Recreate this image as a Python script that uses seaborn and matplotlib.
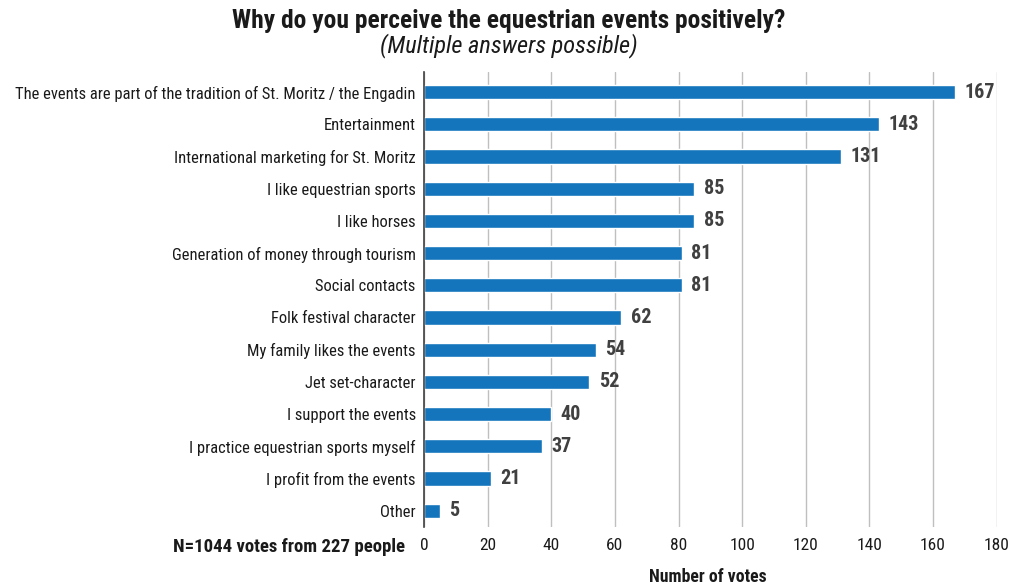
import matplotlib
matplotlib.use("Agg")
import matplotlib.pyplot as plt
import seaborn as sns
import pandas as pd
from matplotlib import font_manager

categories = [
    "The events are part of the tradition of St. Moritz / the Engadin",
    "Entertainment",
    "International marketing for St. Moritz",
    "I like equestrian sports",
    "I like horses",
    "Generation of money through tourism",
    "Social contacts",
    "Folk festival character",
    "My family likes the events",
    "Jet set-character",
    "I support the events",
    "I practice equestrian sports myself",
    "I profit from the events",
    "Other",
]
votes = [167, 143, 131, 85, 85, 81, 81, 62, 54, 52, 40, 37, 21, 5]
x_ticks = [0, 20, 40, 60, 80, 100, 120, 140, 160, 180]

sns.set_theme(style="white")
names = {f.name for f in font_manager.fontManager.ttflist}
fam = "Liberation Sans"
for cand in ["Liberation Sans Narrow", "Arial Narrow", "Roboto Condensed", "PT Sans Narrow",
             "Archivo Narrow"]:
    if cand in names:
        fam = cand
        break
plt.rcParams["font.family"] = [fam, "DejaVu Sans"]

df = pd.DataFrame({"cat": categories, "votes": votes})

fig = plt.figure(figsize=(10.17, 5.86), dpi=100)
ax = fig.add_axes([0.417, 0.101, 0.563, 0.776])
sns.barplot(data=df, x="votes", y="cat", color="#1475bd", saturation=1,
            width=0.44, ax=ax, zorder=3)

ax.set_xlim(0, 180)
ax.set_ylim(13.5, -0.62)
ax.set_xticks(x_ticks)
ax.xaxis.grid(True, color="#bfbfbf", linewidth=1, zorder=0)
ax.set_axisbelow(True)
for s in ["top", "right", "bottom"]:
    ax.spines[s].set_visible(False)
ax.spines["left"].set_color("#404040")
ax.spines["left"].set_linewidth(1.2)
ax.spines["left"].set_zorder(4)
ax.tick_params(axis="y", length=0, pad=6, labelsize=11.9, colors="#1a1a1a")
ax.tick_params(axis="x", length=0, pad=8, labelsize=12.5, colors="#1a1a1a")
ax.set_xlabel("")
ax.set_ylabel("")

for i, v in enumerate(votes):
    ax.text(v + 3, i, str(v), va="center", ha="left", fontsize=14.5,
            fontweight="bold", color="#404040")

fig.text(0.5, 0.965, "Why do you perceive the equestrian events positively?",
         ha="center", va="center", fontsize=18.4, fontweight="bold", color="#1a1a1a")
fig.text(0.5, 0.922, "(Multiple answers possible)", ha="center", va="center",
         fontsize=17.6, fontstyle="italic", color="#1a1a1a")
fig.text(405 / 1017, 1 - 547 / 586, "N=1044 votes from 227 people", ha="right",
         va="center", fontsize=13.5, fontweight="bold", color="#1a1a1a")
fig.text(708 / 1017, 1 - 577 / 586, "Number of votes", ha="center",
         va="center", fontsize=12.8, fontweight="bold", color="#1a1a1a")

fig.savefig("out.png", dpi=100)
